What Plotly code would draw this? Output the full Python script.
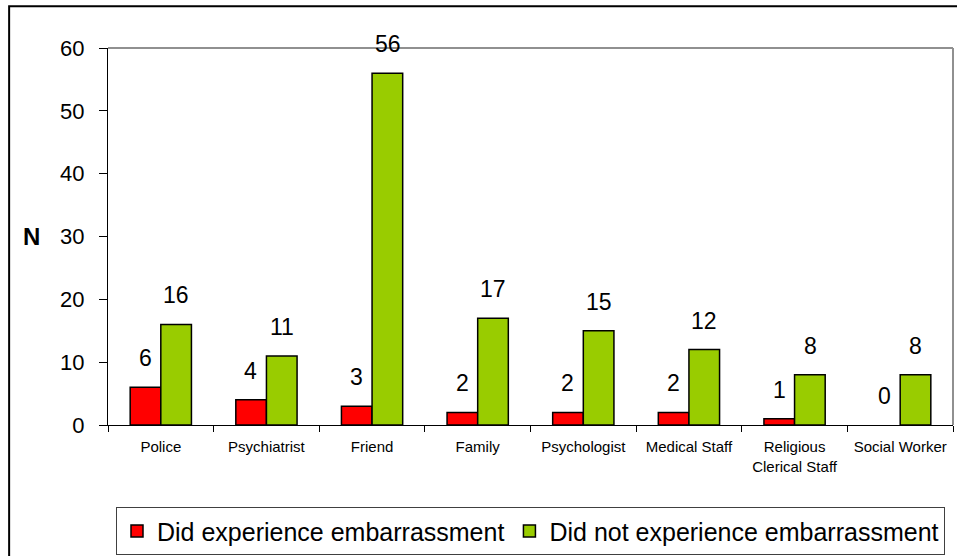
import plotly.graph_objects as go

categories = ["Police", "Psychiatrist", "Friend", "Family", "Psychologist",
              "Medical Staff", "Religious<br>Clerical Staff", "Social Worker"]
did_experience = [6, 4, 3, 2, 2, 2, 1, 0]
did_not_experience = [16, 11, 56, 17, 15, 12, 8, 8]
series_names = ["Did experience embarrassment", "Did not experience embarrassment"]
y_ticks = [0, 10, 20, 30, 40, 50, 60]

FONT = "Liberation Sans, Arial, sans-serif"

fig = go.Figure()
fig.add_trace(go.Bar(x=categories, y=did_experience, name=series_names[0],
                     marker=dict(color="#FF0000",
                                 line=dict(color="black",
                                           width=[1.5 if v > 0 else 0 for v in did_experience]))))
fig.add_trace(go.Bar(x=categories, y=did_not_experience, name=series_names[1],
                     marker=dict(color="#99CC00",
                                 line=dict(color="black",
                                           width=[1.5 if v > 0 else 0 for v in did_not_experience]))))

annotations = []
for c, v in zip(categories, did_experience):
    annotations.append(dict(x=c, y=v, xref="x", yref="y", text=str(v), showarrow=False,
                            xshift=-15.5, yshift=29, yanchor="middle",
                            font=dict(size=23, color="black", family=FONT)))
for c, v in zip(categories, did_not_experience):
    annotations.append(dict(x=c, y=v, xref="x", yref="y", text=str(v), showarrow=False,
                            xshift=15.5, yshift=29, yanchor="middle",
                            font=dict(size=23, color="black", family=FONT)))
annotations.append(dict(x=-0.09, y=0.5, xref="paper", yref="paper", text="<b>N</b>",
                        showarrow=False, xanchor="center", yanchor="middle",
                        font=dict(size=24, color="black", family=FONT)))

shapes = [
    # outer chart border (top/left visible)
    dict(type="rect", xref="paper", yref="paper", x0=-0.117, x1=1.2, y0=-0.6, y1=1.111,
         line=dict(color="black", width=2), fillcolor="rgba(0,0,0,0)", layer="below"),
    # grey top and right plot border
    dict(type="line", xref="paper", yref="paper", x0=0, x1=1, y0=1, y1=1,
         line=dict(color="#909090", width=2)),
    dict(type="line", xref="paper", yref="paper", x0=1, x1=1, y0=0, y1=1,
         line=dict(color="#909090", width=2)),
]

fig.update_layout(
    width=957, height=556,
    margin=dict(l=108, r=4, t=48, b=131, autoexpand=False),
    paper_bgcolor="white", plot_bgcolor="white",
    barmode="group", bargap=0.42, bargroupgap=0,
    font=dict(family=FONT, color="black"),
    showlegend=True,
    legend=dict(orientation="h", x=0.5, xanchor="center", y=-0.218, yanchor="top",
                font=dict(size=25, color="black", family=FONT),
                bordercolor="#404040", borderwidth=1, bgcolor="white",
                itemwidth=30, traceorder="normal"),
    annotations=annotations,
    shapes=shapes,
    xaxis=dict(showline=True, linecolor="black", linewidth=1, ticks="outside",
               tickson="boundaries", ticklen=6, tickcolor="black",
               tickfont=dict(size=15, color="black", family=FONT), showgrid=False,
               ticklabelstandoff=8),
    yaxis=dict(range=[0, 60], tickvals=y_ticks, showline=True, linecolor="black", linewidth=1,
               ticks="outside", ticklen=8, tickcolor="black", showgrid=False, zeroline=False,
               tickfont=dict(size=22, color="black", family=FONT), ticklabelstandoff=10),
)

fig.write_html("out.html", config={"displayModeBar": False},
               post_script="document.body.style.margin='0';document.body.style.overflow='hidden';")
